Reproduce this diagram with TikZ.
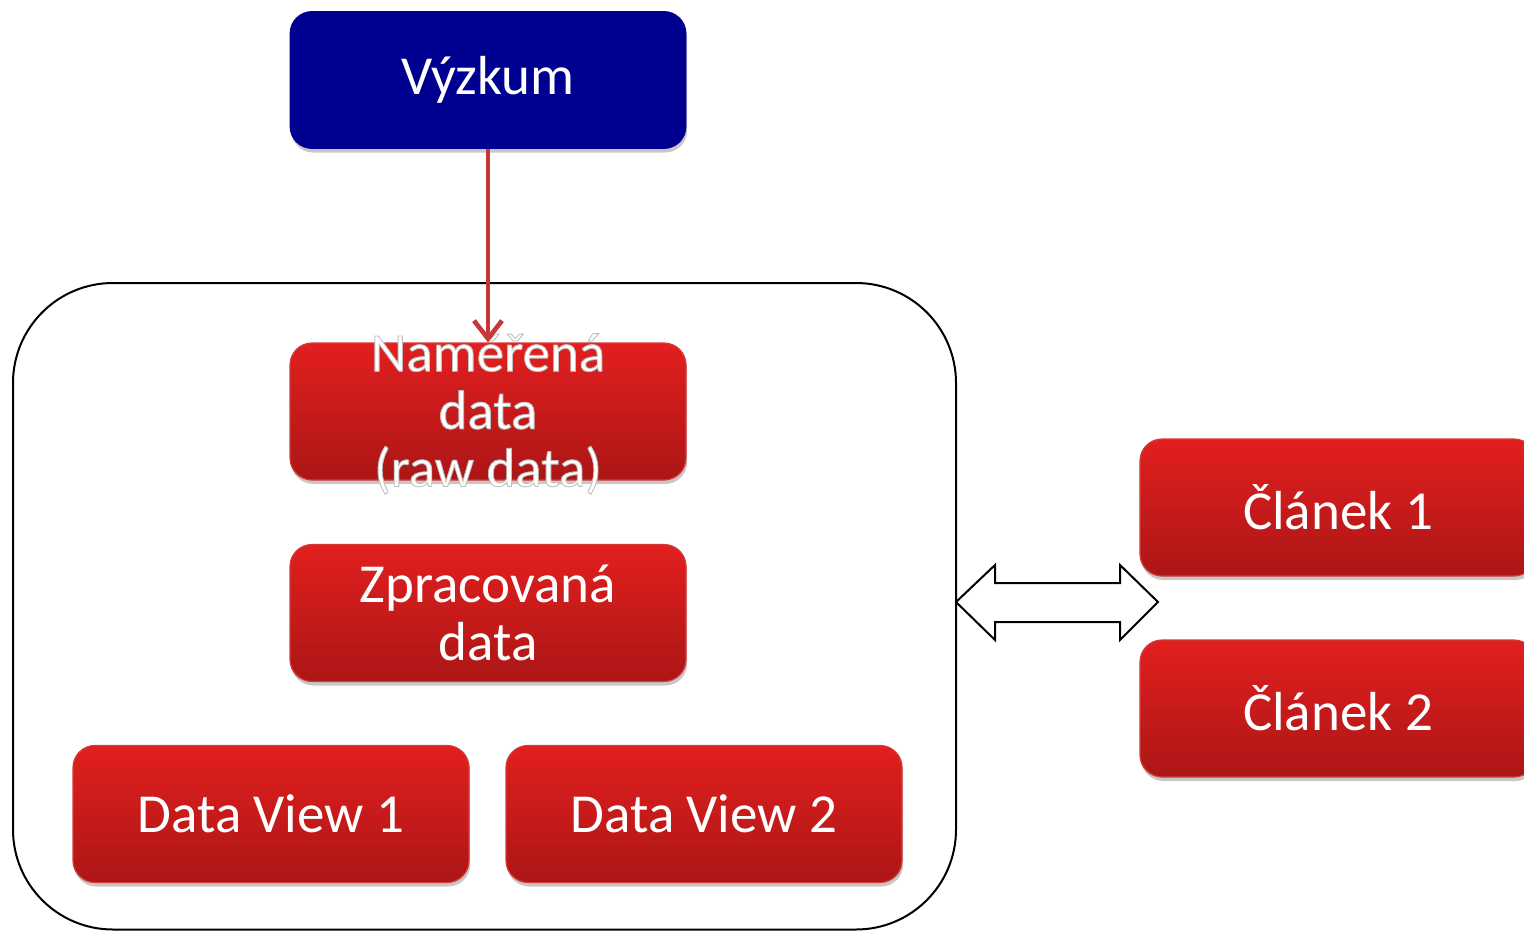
\documentclass[tikz,border=0pt]{standalone}
\usepackage{fontspec}
\setmainfont{Carlito}
\usetikzlibrary{shadows,arrows.meta}
\definecolor{navy}{RGB}{0,0,144}
\definecolor{redtop}{RGB}{226,31,31}
\definecolor{redbot}{RGB}{172,22,22}
\definecolor{redline}{RGB}{212,58,58}
\definecolor{arrowred}{RGB}{200,55,55}
\newcommand{\txtsize}{\fontsize{27.5}{28.8}\selectfont}
\newcommand{\halo}{\special{pdf:code 2 Tr 0.75 G 0.45 w}}
\newcommand{\nohalo}{\special{pdf:code 0 Tr}}
\tikzset{
  box/.style={rectangle, rounded corners=11pt, minimum width=198pt, minimum height=68.5pt,
    inner sep=0pt, text=white, font=\txtsize, align=center,
    drop shadow={shadow xshift=0.6pt, shadow yshift=-2pt, opacity=0.22, fill=black}},
  redbox/.style={box, top color=redtop, bottom color=redbot, draw=redline, line width=0.6pt},
  bluebox/.style={box, fill=navy, draw=navy},
  boxtext/.style={text=white, font=\txtsize, align=center, inner sep=0pt},
  link/.style={draw=arrowred, line width=2.3pt, -{Straight Barb[length=9pt,width=14pt,line width=2.3pt]}},
  frame/.style={draw=black, line width=1pt, rounded corners=50pt},
  hollow/.style={draw=black, line width=1pt, fill=white, line join=miter}
}
\begin{document}
\begin{tikzpicture}[x=0.5pt,y=-0.5pt]
\clip (0,0) rectangle (1524,931);
\fill[white] (0,0) rectangle (1524,931);
% container
\draw[frame] (13,283) rectangle (956,929.5);
% nodes
\node[bluebox] (vyz) at (488,80) {Výzkum};
\node[redbox, label={[boxtext, name=namtxt, yshift=-1.2pt]center:\halo Naměřená\\data\\(raw data)\nohalo}] (nam) at (488,411.5) {};
\node[redbox] (zpr) at (488,613) {Zpracovaná\\data};
\node[redbox] (dv1) at (271,814) {Data View 1};
\node[redbox] (dv2) at (704,814) {Data View 2};
\node[redbox] (cl1) at (1338,507.5) {Článek 1};
\node[redbox] (cl2) at (1338,708.5) {Článek 2};
% connector
\draw[link] (vyz.south) -- (nam.north);
% double arrow
\draw[hollow] (956,602) -- (995,565) -- (995,583) -- (1120,583) -- (1120,565)
  -- (1158,602) -- (1120,640) -- (1120,622) -- (995,622) -- (995,640) -- cycle;
\end{tikzpicture}
\end{document}
